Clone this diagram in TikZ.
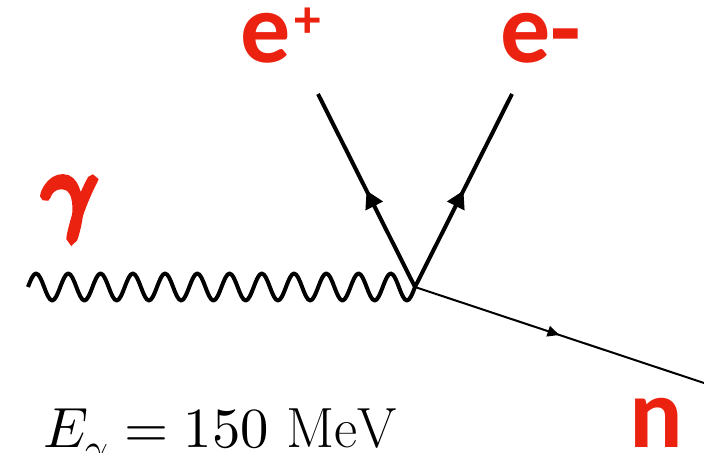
\documentclass[tikz,border=0pt]{standalone}
\usepackage{fontspec}
\usepackage{unicode-math}
\usetikzlibrary{arrows.meta, decorations.markings}
\newfontfamily\labelfont{Carlito}
\newfontfamily\gammafont[FakeBold = 9]{Latin Modern Math}
\definecolor{particlered}{RGB}{236,34,17}

\begin{document}
\begin{tikzpicture}[
        x = 0.75pt, y = -0.75pt,
        >= {Triangle[length = 13pt, width = 14pt]},
        fermion/.style = {line width = 3pt, postaction = {decorate},
            decoration = {markings, mark = at position 0.5 with {\arrow{>}}}},
        nucleon/.style = {line width = 1.5pt, postaction = {decorate},
            decoration = {markings, mark = at position 0.5 with {\arrow{Triangle[length = 9pt, width = 8pt]}}}},
        photon/.style = {line width = 3pt, line join = round},
        particle/.style = {text = particlered, inner sep = 0pt, anchor = base west,
            font = \labelfont\bfseries\fontsize{75}{78}\selectfont}
    ]
      \useasboundingbox (0, 0) rectangle (704, 453);

      % vertex and free ends
      \coordinate (vtx) at (415, 287);
      \coordinate (gin) at (28, 287);
      \coordinate (posend) at (318, 94);
      \coordinate (eleend) at (512, 94);
      \coordinate (nend) at (704, 383);

      % photon: 12 full waves from gin to vtx
      \draw[photon] (gin) foreach \k in {1,...,12} {
          sin ++(8.0625, -13.5) cos ++(8.0625, 13.5)
          sin ++(8.0625, 13.5) cos ++(8.0625, -13.5)};
      \draw[fermion] (vtx) -- (posend);
      \draw[fermion] (vtx) -- (eleend);
      \draw[nucleon] (vtx) -- (nend);

      % labels
      \node[particle, anchor = center, font = \gammafont\fontsize{70}{72}\selectfont] (gamma) at (67, 209) {\symbol{"1D6FE}};
      \node[particle] (positron) at (240, 63) {e\hspace{3pt}\raisebox{19pt}{\fontsize{40}{40}\selectfont +}};
      \node[particle] (electron) at (500, 63) {e-};
      \node[particle] (neutron) at (629, 447) {n};
      \node[inner sep = 0pt, anchor = base west, font = \fontsize{42.5}{44}\selectfont] (energy) at (43, 447) {$E_\gamma = 150\ \mathrm{MeV}$};
    \end{tikzpicture}
\end{document}
